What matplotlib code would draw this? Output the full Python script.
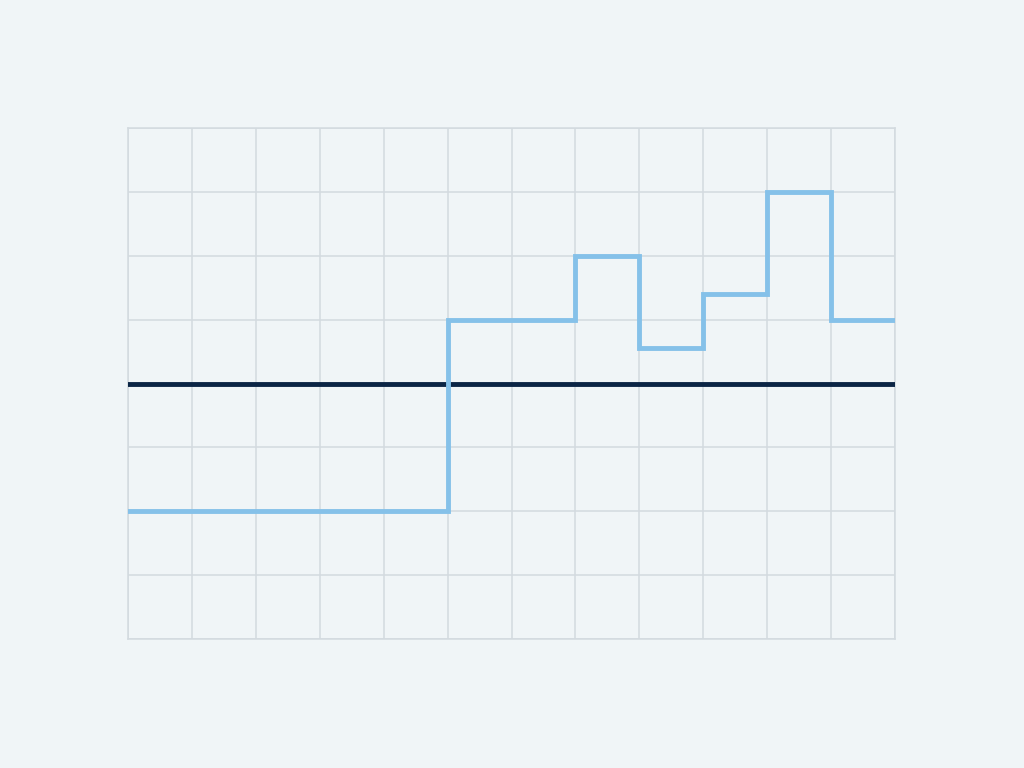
import matplotlib
matplotlib.use("Agg")
import matplotlib.pyplot as plt
import numpy as np

# Data
x_steps = [0, 1, 2, 3, 4, 5, 6, 7, 8, 9, 10, 11, 12]
y_values = [2, 2, 2, 2, 2, 5, 5, 6, 4.55, 5.4, 7, 5, 5]
baseline = 4

bg = "#f0f5f7"
fig = plt.figure(figsize=(10.24, 7.68), dpi=100, facecolor=bg)
ax = fig.add_axes([128/1024, 1 - 639/768, (895-128)/1024, (639-128)/768])
ax.set_facecolor(bg)

ax.set_xlim(0, 12)
ax.set_ylim(0, 8)
ax.set_xticks(np.arange(0, 13, 1))
ax.set_yticks(np.arange(0, 9, 1))
ax.tick_params(length=0, labelbottom=False, labelleft=False)
ax.grid(True, color="#d3dadf", linewidth=1.1)
ax.set_axisbelow(True)
for s in ax.spines.values():
    s.set_color("#d3dadf")
    s.set_linewidth(1.1)

ax.axhline(baseline, color="#0b2545", linewidth=3.5, zorder=3)
ax.step(x_steps, y_values, where="post", color="#85c1e9", linewidth=3.5,
        solid_joinstyle="miter", zorder=4)

fig.savefig("out.png", dpi=100, facecolor=bg)
